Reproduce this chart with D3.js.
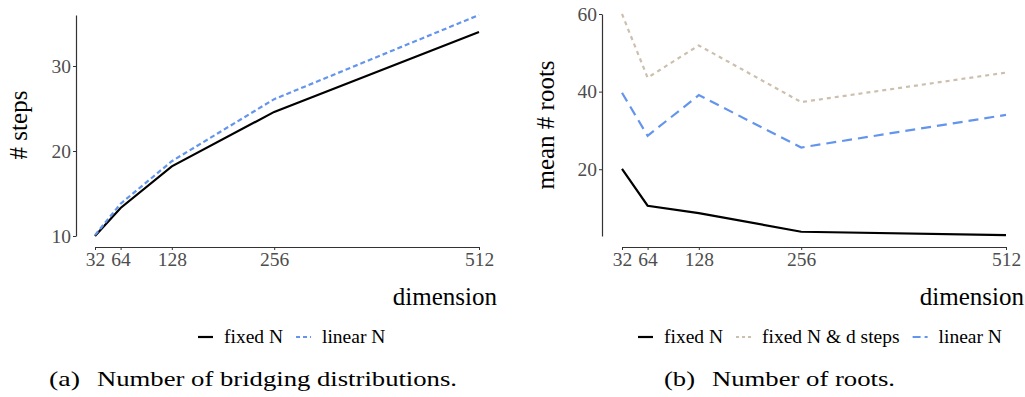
<!DOCTYPE html>
<html>
  <head>
    <script src="https://d3js.org/d3.v7.min.js" charset="utf-8"></script>
    <meta charset="UTF-8">
    <title>steps and roots</title>
    <style>
      body { margin: 0; background: #fff; }
      text { font-family: "Liberation Serif", "Times New Roman", serif; }
      .tick text { fill: #4d4d4d; font-size: 19.5px; }
      .domain, .tick line { stroke: #333; }
    </style>
  </head>
  <body>
    <svg class="chart"></svg>
    <script type="text/javascript">

     var dims = [32, 64, 128, 256, 512];

     // panel (a): number of bridging distributions
     var stepsFixed  = [10.0, 13.3, 18.2, 24.6, 34.0];
     var stepsLinear = [10.1, 13.8, 18.8, 26.1, 36.0];
     var stepsTicks  = [10, 20, 30];

     // panel (b): number of roots
     var rootsFixed   = [20.1, 10.6, 8.7, 3.9, 3.0];
     var rootsFixedD  = [60.0, 43.6, 51.9, 37.3, 44.9];
     var rootsLinear  = [39.7, 28.6, 39.1, 25.6, 34.0];
     var rootsTicks   = [20, 40, 60];

     var width = 1025, height = 397;

     var chart = d3.select(".chart")
                   .attr("width", width)
                   .attr("height", height);

     function panel(opts) {
         var g = chart.append("g");
         var x = d3.scaleLinear().domain([32, 512]).range(opts.xr);
         var y = d3.scaleLinear().domain(opts.yd).range(opts.yr);

         g.append("g")
          .attr("transform", "translate(0," + opts.xAxisY + ")")
          .call(d3.axisBottom(x).tickValues(dims).tickSize(3).tickSizeOuter(0).tickPadding(2))
          .call(function(a) { a.select(".domain").attr("stroke-width", 1.2); });

         g.append("g")
          .attr("transform", "translate(" + opts.yAxisX + ",0)")
          .call(d3.axisLeft(y).tickValues(opts.ticks).tickSize(3).tickSizeOuter(0).tickPadding(2))
          .call(function(a) { a.select(".domain").attr("stroke-width", 1.2); });

         var line = d3.line()
                      .x(function(d, i) { return x(dims[i]); })
                      .y(function(d) { return y(d); });

         opts.series.forEach(function(s) {
             g.append("path")
              .datum(s.values)
              .attr("fill", "none")
              .attr("stroke", s.color)
              .attr("stroke-width", 2.2)
              .attr("stroke-dasharray", s.dash)
              .attr("d", line);
         });

         g.append("text")
          .attr("x", opts.xr[1] + 18)
          .attr("y", 305)
          .attr("text-anchor", "end")
          .attr("font-size", 25)
          .text("dimension");

         g.append("text")
          .attr("transform", "translate(" + opts.yTitleX + ",125) rotate(-90)")
          .attr("text-anchor", "middle")
          .attr("font-size", 25)
          .text(opts.yTitle);

         // legend
         var lx = opts.legendX;
         opts.series.forEach(function(s) {
             g.append("line")
              .attr("x1", lx).attr("x2", lx + 15)
              .attr("y1", 337).attr("y2", 337)
              .attr("stroke", s.color)
              .attr("stroke-width", 2.2)
              .attr("stroke-dasharray", s.key);
             var t = g.append("text")
              .attr("x", lx + 26)
              .attr("y", 343)
              .attr("font-size", 19.5)
              .text(s.name);
             lx += 26 + t.node().getComputedTextLength() + 13;
         });

         // caption: label then text
         g.append("text")
          .attr("x", opts.capX)
          .attr("y", 386)
          .attr("font-size", 21.5)
          .attr("textLength", 31)
          .attr("lengthAdjust", "spacingAndGlyphs")
          .text(opts.capLabel);
         g.append("text")
          .attr("x", opts.capX + 48)
          .attr("y", 386)
          .attr("font-size", 21.5)
          .attr("textLength", opts.capW)
          .attr("lengthAdjust", "spacingAndGlyphs")
          .text(opts.caption);
     }

     panel({
         xr: [95, 479], yd: [10, 36], yr: [236, 15],
         xAxisY: 247, yAxisX: 76, yTitleX: 27,
         ticks: stepsTicks, yTitle: "# steps",
         legendX: 198,
         capX: 49, capW: 360, capLabel: "(a)",
         caption: "Number of bridging distributions.",
         series: [
             {name: "fixed N", values: stepsFixed, color: "#000", dash: null, key: null},
             {name: "linear N", values: stepsLinear, color: "#6495ED", dash: "5,3", key: "4,3"}
         ]
     });

     panel({
         xr: [622, 1006], yd: [2.8, 60], yr: [236, 14],
         xAxisY: 247, yAxisX: 602, yTitleX: 554,
         ticks: rootsTicks, yTitle: "mean # roots",
         legendX: 638,
         capX: 664, capW: 183, capLabel: "(b)",
         caption: "Number of roots.",
         series: [
             {name: "fixed N", values: rootsFixed, color: "#000", dash: null, key: null},
             {name: "fixed N & d steps", values: rootsFixedD, color: "#CDBFAE", dash: "4,4", key: "3,3"},
             {name: "linear N", values: rootsLinear, color: "#6495ED", dash: "10,6", key: "8,4"}
         ]
     });

    </script>
  </body>
</html>
